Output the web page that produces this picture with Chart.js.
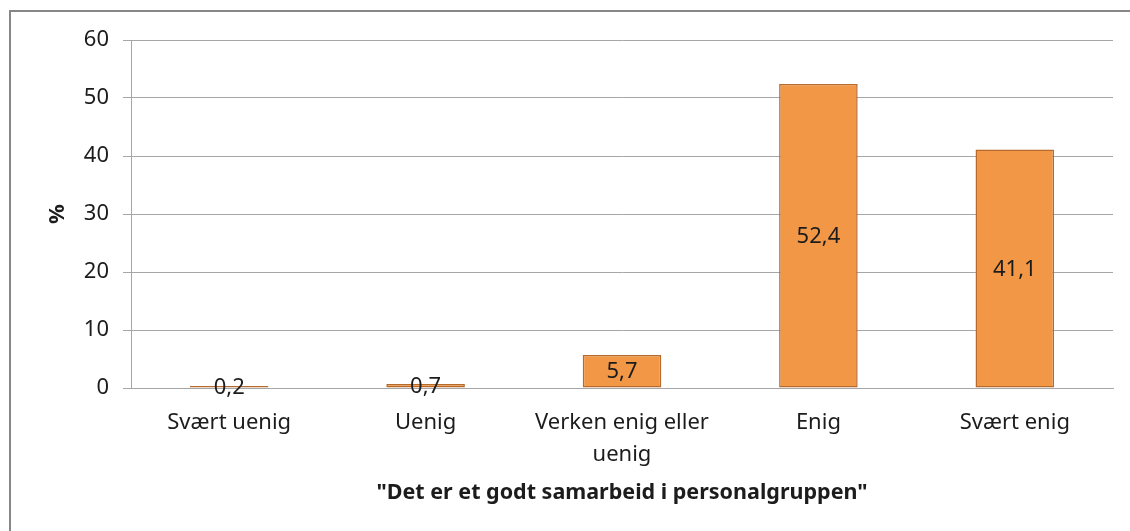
<!DOCTYPE html>
<html>
<head>
<meta charset="utf-8">
<script src="https://cdn.jsdelivr.net/npm/chart.js@4.4.1/dist/chart.umd.min.js"></script>
<style>
  html, body { margin: 0; padding: 0; background: #ffffff; }
  #wrap { position: relative; width: 1130px; height: 531px; overflow: hidden; }
  #frame { position: absolute; left: 9px; top: 10px; width: 1200px; height: 600px; border: 2px solid #878787; box-sizing: border-box; pointer-events: none; }
  canvas { position: absolute; left: 0; top: 0; }
</style>
</head>
<body>
<div id="wrap">
  <canvas id="c" width="1130" height="531"></canvas>
  <div id="frame"></div>
</div>
<script>
const categories = ["Svært uenig", "Uenig", ["Verken enig eller", "uenig"], "Enig", "Svært enig"];
const values = [0.2, 0.7, 5.7, 52.4, 41.1];
const yTicks = [0, 10, 20, 30, 40, 50, 60];
const xTitle = "\"Det er et godt samarbeid i personalgruppen\"";
const yTitle = "%";

const FONT = "'Noto Sans', 'DejaVu Sans', sans-serif";
const TEXT = "#1c1c1c";
const GRID = "#a6a6a6";

const valueLabels = {
  id: 'valueLabels',
  afterDatasetsDraw(chart) {
    const ctx = chart.ctx;
    const meta = chart.getDatasetMeta(0);
    ctx.save();
    ctx.font = "22px " + FONT;
    ctx.fillStyle = TEXT;
    ctx.textAlign = 'center';
    ctx.textBaseline = 'middle';
    meta.data.forEach((el, i) => {
      const p = el.getCenterPoint();
      const txt = values[i].toFixed(1).replace('.', ',');
      ctx.fillText(txt, p.x, p.y + 1);
    });
    ctx.restore();
  }
};

new Chart(document.getElementById('c'), {
  type: 'bar',
  data: {
    labels: categories,
    datasets: [{
      data: values,
      backgroundColor: '#F29745',
      borderColor: '#B86A2B',
      borderWidth: 1.5,
      borderSkipped: false,
      minBarLength: 2,
      categoryPercentage: 1.0,
      barPercentage: 0.4
    }]
  },
  options: {
    responsive: false,
    animation: false,
    devicePixelRatio: 1,
    layout: { padding: { top: 40, right: 17, bottom: 0, left: 0 } },
    plugins: {
      legend: { display: false },
      tooltip: { enabled: false }
    },
    scales: {
      x: {
        grid: { display: false },
        border: { display: true, color: GRID, width: 1 },
        ticks: {
          color: TEXT,
          font: { family: FONT, size: 22, lineHeight: 1.45 },
          padding: 11,
          maxRotation: 0,
          autoSkip: false
        },
        title: {
          display: true,
          text: xTitle,
          color: TEXT,
          font: { family: FONT, size: 21.5, weight: 'bold', lineHeight: 1.2 },
          padding: { top: 0, bottom: 25 }
        },
        afterFit(scale) { scale.height = 143; }
      },
      y: {
        min: 0,
        max: 60,
        afterBuildTicks(scale) { scale.ticks = yTicks.map(v => ({ value: v })); },
        grid: { color: GRID, lineWidth: 1, tickLength: 8, drawTicks: true },
        border: { display: true, color: GRID, width: 1 },
        ticks: {
          color: TEXT,
          font: { family: FONT, size: 22 },
          padding: 14
        },
        title: {
          display: true,
          text: yTitle,
          color: TEXT,
          font: { family: FONT, size: 22, weight: 'bold', lineHeight: 1.2 },
          padding: { top: 45, bottom: 0 }
        },
        afterFit(scale) { scale.width = 131; }
      }
    }
  },
  plugins: [valueLabels]
});
</script>
</body>
</html>
